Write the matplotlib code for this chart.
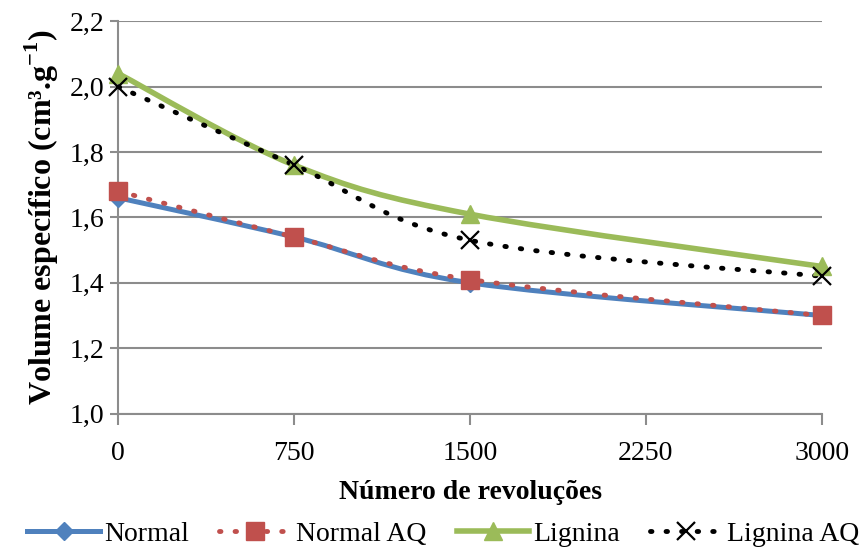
import matplotlib
matplotlib.use("Agg")
import matplotlib.pyplot as plt
from matplotlib.path import Path
from matplotlib.patches import PathPatch
from matplotlib.lines import Line2D
from matplotlib.ticker import FuncFormatter

plt.rcParams['font.family'] = ['Liberation Serif', 'DejaVu Serif']
plt.rcParams['mathtext.fontset'] = 'custom'
plt.rcParams['mathtext.rm'] = 'Liberation Serif:bold'

# Specific volume vs. number of PFI revolutions
revolucoes = [0, 750, 1500, 3000]
normal = [1.66, 1.54, 1.40, 1.30]
normal_aq = [1.68, 1.54, 1.41, 1.30]
lignina = [2.04, 1.76, 1.61, 1.45]
lignina_aq = [2.00, 1.76, 1.53, 1.42]

dots = (0, (0.3, 2.9))
series = [
    ("Normal", normal, dict(color="#4F81BD", lw=3.6, ls="-", marker="D", ms=9, mfc="#4F81BD", mec="#4F81BD")),
    ("Normal AQ", normal_aq, dict(color="#C0504D", lw=3.5, ls=dots, marker="s", ms=13, mfc="#C0504D", mec="#C0504D")),
    ("Lignina", lignina, dict(color="#9BBB59", lw=4, ls="-", marker="^", ms=13, mfc="#9BBB59", mec="#9BBB59")),
    ("Lignina AQ", lignina_aq, dict(color="black", lw=3.5, ls=dots, marker="x", ms=13, mfc="black", mec="black", mew=1.6)),
]


def smooth_path(xs, ys):
    # cubic bezier through the points (Catmull-Rom style control points)
    pts = list(zip(xs, ys))
    verts = [pts[0]]
    codes = [Path.MOVETO]
    n = len(pts)
    for i in range(n - 1):
        p0 = pts[i - 1] if i > 0 else pts[i]
        p1 = pts[i]
        p2 = pts[i + 1]
        p3 = pts[i + 2] if i + 2 < n else pts[i + 1]
        c1 = (p1[0] + (p2[0] - p0[0]) / 6, p1[1] + (p2[1] - p0[1]) / 6)
        c2 = (p2[0] - (p3[0] - p1[0]) / 6, p2[1] - (p3[1] - p1[1]) / 6)
        verts += [c1, c2, p2]
        codes += [Path.CURVE4] * 3
    return Path(verts, codes)


fig = plt.figure(figsize=(8.64, 5.47), dpi=100)
ax = fig.add_axes([0.137, 0.244, 0.814, 0.717])

handles = []
for name, vals, st in series:
    patch = PathPatch(smooth_path(revolucoes, vals), facecolor="none", edgecolor=st["color"],
                      lw=st["lw"], linestyle=st["ls"], capstyle="round", zorder=3)
    ax.add_patch(patch)
    ax.plot(revolucoes, vals, linestyle="none", marker=st["marker"], ms=st["ms"],
            mfc=st["mfc"], mec=st["mec"], mew=st.get("mew", 1), zorder=4, clip_on=False)
    handles.append(Line2D([], [], color=st["color"], lw=st["lw"], linestyle=st["ls"],
                          dash_capstyle="round", marker=st["marker"], ms=st["ms"],
                          mfc=st["mfc"], mec=st["mec"], mew=st.get("mew", 1)))

ax.set_xlim(0, 3000)
ax.set_ylim(1.0, 2.2)
ax.set_xticks([0, 750, 1500, 2250, 3000])
ax.set_yticks([1.0, 1.2, 1.4, 1.6, 1.8, 2.0, 2.2])
ax.yaxis.set_major_formatter(FuncFormatter(lambda v, p: f"{v:.1f}".replace(".", ",")))
ax.grid(axis="y", color="#8C8C8C", lw=1.5)
ax.set_axisbelow(True)
for s in ["top", "right"]:
    ax.spines[s].set_visible(False)
for s in ["left", "bottom"]:
    ax.spines[s].set_color("#8C8C8C")
    ax.spines[s].set_linewidth(1.5)
ax.tick_params(axis="x", direction="out", length=8, width=1.5, color="#8C8C8C", labelsize=20, pad=12)
ax.tick_params(axis="y", direction="out", length=6, width=1.5, color="#8C8C8C", labelsize=20, pad=4)

ax.set_xlabel("Número de revoluções", fontsize=20, fontweight="bold", labelpad=10)
ax.set_ylabel("Volume específico (cm³.g$^{-1}$)", fontsize=23, fontweight="bold", labelpad=6)

fig.legend(handles, [s[0] for s in series], loc="lower center", bbox_to_anchor=(0.513, -0.045),
           ncol=4, frameon=False, fontsize=20, handlelength=2.6, handletextpad=0.15,
           columnspacing=1.1)

fig.savefig("out.png", dpi=100)
